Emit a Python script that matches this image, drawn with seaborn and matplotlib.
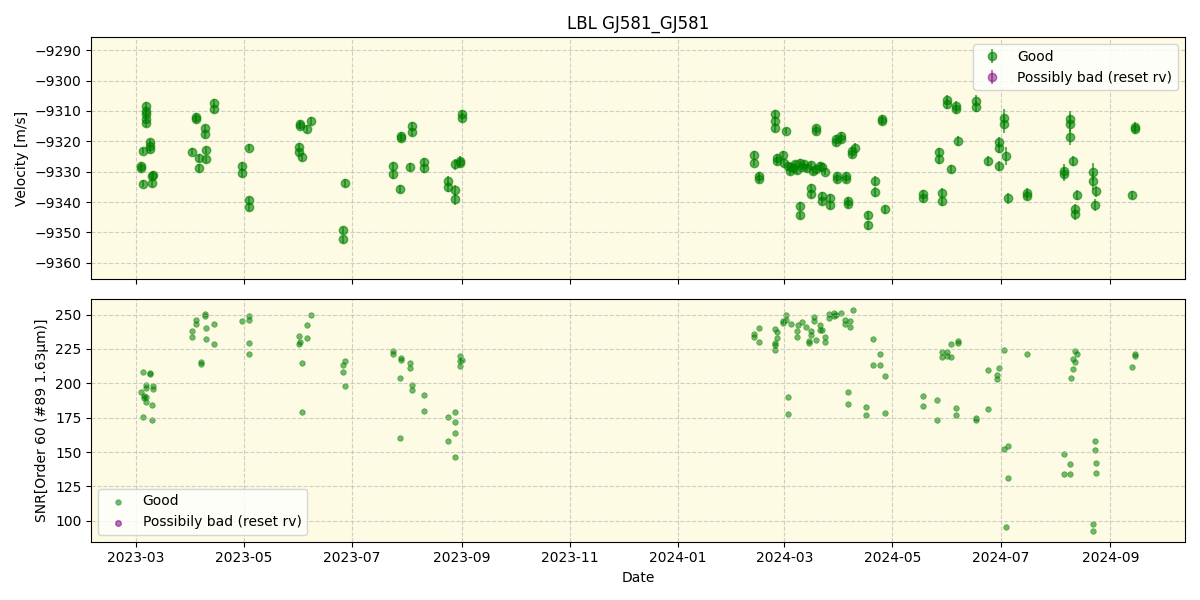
import numpy as np
import pandas as pd
import seaborn as sns
import matplotlib.pyplot as plt
import matplotlib.dates as mdates

# ---- radial velocity per night (values in m/s) ----
rv_nights = ['2023-03-07', '2023-03-09', '2023-03-05', '2023-03-04', '2023-03-10', '2023-03-11',
             '2023-04-02', '2023-04-04', '2023-04-06', '2023-04-09', '2023-04-10', '2023-04-14',
             '2023-04-30', '2023-05-04', '2023-06-01', '2023-06-02', '2023-06-03', '2023-06-06',
             '2023-06-08', '2023-06-26', '2023-06-27', '2023-07-24', '2023-07-28', '2023-07-29',
             '2023-08-03', '2023-08-04', '2023-08-11', '2023-08-24', '2023-08-28', '2023-08-31',
             '2023-09-01',
             '2024-02-13', '2024-02-16', '2024-02-25', '2024-02-26', '2024-02-29', '2024-03-01',
             '2024-03-02', '2024-03-03', '2024-03-04', '2024-03-05', '2024-03-06', '2024-03-07',
             '2024-03-08', '2024-03-10', '2024-03-11', '2024-03-12', '2024-03-14', '2024-03-16',
             '2024-03-17', '2024-03-19', '2024-03-21', '2024-03-22', '2024-03-24', '2024-03-27',
             '2024-03-30', '2024-03-31', '2024-04-02', '2024-04-05', '2024-04-06', '2024-04-08',
             '2024-04-10', '2024-04-17', '2024-04-21', '2024-04-25', '2024-04-27', '2024-05-18',
             '2024-05-27', '2024-05-29', '2024-06-01', '2024-06-03', '2024-06-06', '2024-06-07',
             '2024-06-17', '2024-06-24', '2024-06-30', '2024-07-03', '2024-07-04', '2024-07-05',
             '2024-07-16', '2024-08-06', '2024-08-09', '2024-08-11', '2024-08-12', '2024-08-13',
             '2024-08-22', '2024-08-23', '2024-08-24', '2024-09-13', '2024-09-15']

rv_values = [[-9308.4, -9310.0, -9311.1, -9312.7, -9314.0], [-9320.4, -9321.5, -9322.6],
             [-9323.2, -9334.0], [-9328.1, -9328.9], [-9333.6, -9331.4], [-9331.1],
             [-9323.4], [-9312.0, -9312.7], [-9325.6, -9328.9], [-9315.8, -9317.7],
             [-9323.0, -9325.9], [-9307.3, -9309.5],
             [-9328.1, -9330.3], [-9322.1, -9339.5, -9341.6], [-9321.9, -9323.7], [-9314.2, -9314.9],
             [-9325.2], [-9316.0],
             [-9313.3], [-9349.3, -9352.3], [-9333.8], [-9328.1, -9330.9], [-9335.8], [-9318.2, -9319.0],
             [-9328.5], [-9314.9, -9317.1], [-9326.8, -9328.9], [-9333.1, -9335.1],
             [-9336.2, -9339.1, -9327.6], [-9326.5, -9327.0],
             [-9311.1, -9312.2],
             [-9324.5, -9327.0], [-9331.4, -9332.3], [-9311.1, -9313.3, -9315.5], [-9325.4, -9326.5],
             [-9324.5], [-9327.0],
             [-9316.6], [-9328.1], [-9329.8], [-9328.5], [-9328.9], [-9327.6],
             [-9329.6], [-9327.0, -9341.3, -9344.4], [-9328.5], [-9327.6], [-9328.9],
             [-9327.8, -9335.3, -9337.5],
             [-9329.8], [-9329.2, -9315.8, -9316.6], [-9328.1], [-9328.5, -9338.0, -9339.7], [-9330.0],
             [-9338.6, -9341.1],
             [-9319.3, -9320.4], [-9331.4, -9332.5], [-9318.2, -9319.3], [-9331.4, -9332.3],
             [-9339.7, -9340.5], [-9323.2, -9324.3],
             [-9322.1], [-9344.3, -9347.6], [-9333.1, -9336.7], [-9312.7, -9313.3], [-9342.4],
             [-9337.5, -9338.6],
             [-9323.7, -9325.9], [-9336.9, -9339.7], [-9306.5, -9307.8], [-9329.2], [-9308.4, -9309.5],
             [-9319.9],
             [-9306.7, -9308.7], [-9326.5], [-9320.4, -9322.1, -9328.1], [-9312.2, -9314.4], [-9324.8],
             [-9338.8],
             [-9336.9, -9338.0], [-9329.8, -9330.9], [-9312.7, -9314.4, -9318.6], [-9326.5],
             [-9342.4, -9344.1], [-9337.7],
             [-9330.0, -9333.1], [-9341.0], [-9336.4], [-9337.7], [-9315.3, -9316.0]]

rv_errors = [1.2, 1.3, 1.1, 1.2, 1.3, 1.2,
             1.1, 1.2, 1.3, 1.2, 1.2, 1.3,
             1.4, 1.2, 1.3, 1.2, 1.3, 1.4,
             1.3, 1.2, 1.3, 1.4, 1.3, 1.2,
             1.2, 1.3, 1.4, 1.6, 1.8, 1.5,
             1.4,
             1.3, 1.4, 1.5, 1.3, 1.2, 1.2,
             1.1, 1.1, 1.2, 1.1, 1.1, 1.2,
             1.1, 1.2, 1.1, 1.2, 1.2, 1.3,
             1.2, 1.3, 1.2, 1.3, 1.2, 1.3,
             1.2, 1.3, 1.2, 1.3, 1.4, 1.3,
             1.4, 1.5, 1.6, 1.5, 1.4, 1.4,
             1.5, 1.6, 1.7, 1.4, 1.6, 1.5,
             1.8, 1.6, 1.7, 2.8, 3.0, 1.8,
             1.5, 2.2, 2.6, 1.6, 1.7, 1.8,
             3.0, 2.0, 1.8, 1.4, 1.6]

# ---- SNR in order 60 per night ----
snr_nights = ['2023-03-04', '2023-03-05', '2023-03-06', '2023-03-07', '2023-03-09', '2023-03-10',
              '2023-03-11', '2023-04-02', '2023-04-04', '2023-04-07', '2023-04-09', '2023-04-10',
              '2023-04-14', '2023-04-30', '2023-05-04', '2023-06-01', '2023-06-02', '2023-06-03',
              '2023-06-06', '2023-06-08', '2023-06-26', '2023-06-27', '2023-07-24', '2023-07-28',
              '2023-07-29', '2023-08-03', '2023-08-04', '2023-08-11', '2023-08-24', '2023-08-28',
              '2023-08-31', '2023-09-01',
              '2024-02-13', '2024-02-16', '2024-02-25', '2024-02-26', '2024-02-29', '2024-03-02',
              '2024-03-03', '2024-03-05', '2024-03-08', '2024-03-09', '2024-03-11', '2024-03-13',
              '2024-03-15', '2024-03-16', '2024-03-18', '2024-03-19', '2024-03-21', '2024-03-22',
              '2024-03-24', '2024-03-26', '2024-03-29', '2024-03-30', '2024-04-02', '2024-04-04',
              '2024-04-06', '2024-04-07', '2024-04-09', '2024-04-16', '2024-04-20', '2024-04-24',
              '2024-04-27', '2024-05-18', '2024-05-26', '2024-05-29', '2024-06-01', '2024-06-03',
              '2024-06-06', '2024-06-07', '2024-06-17', '2024-06-24', '2024-06-29', '2024-06-30',
              '2024-07-03', '2024-07-04', '2024-07-05', '2024-07-16', '2024-08-06', '2024-08-09',
              '2024-08-10', '2024-08-11', '2024-08-12', '2024-08-13', '2024-08-22', '2024-08-23',
              '2024-08-24', '2024-09-13', '2024-09-15']

snr_values = [[193.6], [208.3, 175.6], [190.7, 189.0], [199.1, 196.7, 190.2, 186.3], [207.6, 206.9],
              [183.9, 173.0],
              [197.9, 196.0], [237.9, 233.8], [246.4, 243.2], [215.6, 214.2], [250.7, 248.8],
              [240.3, 232.3],
              [243.2, 228.9], [245.6], [249.3, 246.4, 229.4, 221.7], [234.7, 228.9], [229.9],
              [214.9, 179.3],
              [242.7, 233.0], [250.0], [213.7, 208.3], [216.6, 198.2], [223.8, 221.7], [204.0, 159.9],
              [218.5, 216.8], [214.9, 211.2], [199.1, 194.8], [191.6, 180.2], [175.2, 157.7],
              [179.5, 172.0, 164.0, 146.6],
              [220.2, 216.1, 212.5], [217.3],
              [236.2, 233.8], [240.3, 230.1], [239.6, 229.4, 228.2, 224.3], [237.2, 233.0],
              [245.2, 243.9], [250.0, 246.4],
              [190.2, 177.8], [243.0], [237.9, 233.8], [242.7], [244.7], [240.8],
              [231.1, 229.4], [237.9, 235.0], [248.3, 245.2], [231.4], [242.5, 239.1], [239.1],
              [233.8, 230.1], [250.7, 247.6], [251.2, 249.3], [250.0], [251.2], [246.4, 243.2],
              [193.8, 185.1], [245.6, 241.0], [253.1], [182.9, 177.1], [232.3, 213.4], [221.4, 213.4],
              [205.4, 178.6], [190.9, 183.6], [188.0, 173.5], [222.9, 219.2], [222.9, 219.7],
              [228.7, 219.2],
              [182.2, 177.1], [231.1, 229.4], [174.9, 173.5], [209.8, 181.5], [206.4, 203.3], [211.2],
              [224.3, 152.4], [95.7], [154.6, 131.3], [221.2], [148.8, 134.2], [141.5, 134.2],
              [204.0], [217.8, 210.5], [223.8, 215.6], [221.4], [97.9, 92.8], [158.2, 151.7],
              [142.2, 135.0], [212.0], [221.4, 220.2]]

rv_df = pd.DataFrame({
    'date': pd.to_datetime([d for d, vals in zip(rv_nights, rv_values) for _ in vals]),
    'rv': [v for vals in rv_values for v in vals],
    'err': [e for e, vals in zip(rv_errors, rv_values) for _ in vals],
})
snr_df = pd.DataFrame({
    'date': pd.to_datetime([d for d, vals in zip(snr_nights, snr_values) for _ in vals]),
    'snr': [v for vals in snr_values for v in vals],
})

bg = '#fdfbe3'
fig, (ax1, ax2) = plt.subplots(2, 1, figsize=(12, 6), sharex=True)

# top panel: velocities
ax1.errorbar(rv_df['date'], rv_df['rv'], yerr=rv_df['err'], fmt='o', color='green',
             alpha=0.6, ms=6, label='Good')
ax1.errorbar([], [], yerr=[], fmt='o', color='purple', alpha=0.5, ms=6,
             label='Possibly bad (reset rv)')
ax1.set_ylim(-9365.5, -9285.7)
ax1.set_yticks(np.arange(-9360, -9289, 10))
ax1.set_ylabel('Velocity [m/s]')
ax1.set_title('LBL GJ581_GJ581')
ax1.legend(loc='upper right')

# bottom panel: SNR
sns.scatterplot(data=snr_df, x='date', y='snr', ax=ax2, color='green', alpha=0.55,
                s=16, edgecolor='green', linewidth=0.5, label='Good')
ax2.scatter([], [], color='purple', alpha=0.55, s=16, label='Possibily bad (reset rv)')
ax2.set_ylabel('SNR[Order 60 (#89 1.63μm)]')
ax2.set_xlabel('Date')
ax2.legend(loc='lower left')

for ax in (ax1, ax2):
    ax.set_facecolor(bg)
    ax.grid(True, linestyle='--', color='#b0b0b0', alpha=0.6)
    ax.xaxis.set_major_locator(mdates.MonthLocator(interval=2))
    ax.xaxis.set_major_formatter(mdates.DateFormatter('%Y-%m'))

fig.tight_layout()
fig.savefig('out.png', dpi=100)
